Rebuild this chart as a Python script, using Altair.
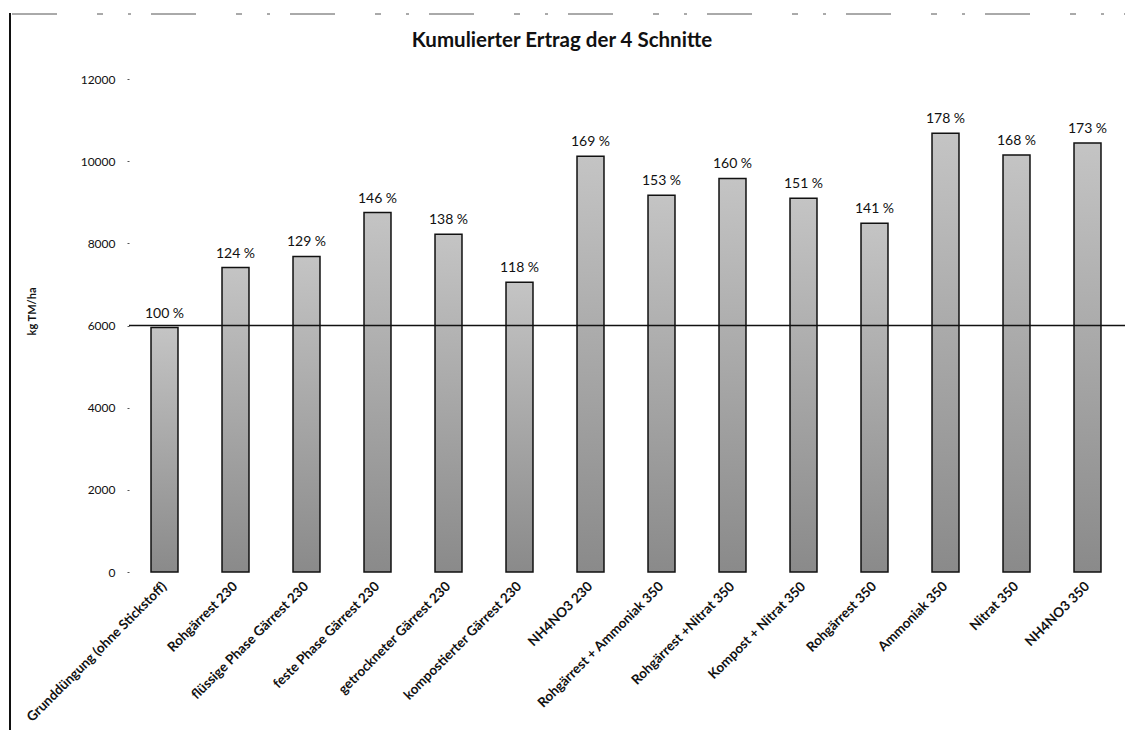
import altair as alt
import pandas as pd

title_text = ["Kumulierter Ertrag der 4 Schnitte"]
categories = [
    "Grunddüngung (ohne Stickstoff)", "Rohgärrest 230", "flüssige Phase Gärrest 230",
    "feste Phase Gärrest 230", "getrockneter Gärrest 230", "kompostierter Gärrest 230",
    "NH4NO3 230", "Rohgärrest + Ammoniak 350", "Rohgärrest +Nitrat 350",
    "Kompost + Nitrat 350", "Rohgärrest 350", "Ammoniak 350", "Nitrat 350", "NH4NO3 350",
]
values = [5950, 7410, 7680, 8750, 8220, 7050, 10120, 9170, 9580, 9100, 8490, 10680, 10150, 10440]
percent_labels = ["100 %", "124 %", "129 %", "146 %", "138 %", "118 %", "169 %",
                  "153 %", "160 %", "151 %", "141 %", "178 %", "168 %", "173 %"]
reference_value = [6000]
y_ticks = [0, 2000, 4000, 6000, 8000, 10000, 12000]

df = pd.DataFrame({"cat": categories, "val": values, "pct": percent_labels})
ref = pd.DataFrame({"ref": reference_value})
ttl = pd.DataFrame({"t": title_text})

FONT = "Lato"
W, H = 994, 493

x_enc = alt.X("cat:N", sort=categories, title=None,
              scale=alt.Scale(paddingInner=0.62, paddingOuter=0.31),
              axis=alt.Axis(labelAngle=-45, labelAlign="right", labelBaseline="middle",
                            labelFontSize=13.5, labelFont=FONT, labelColor="#111",
                            labelFontWeight="bold",
                            labelPadding=12, domain=False, ticks=False, labelLimit=300))
y_scale = alt.Scale(domain=[0, 12000], nice=False)

bars = alt.Chart(df).mark_bar(
    stroke="#111", strokeWidth=1.5,
    color=alt.Gradient(gradient="linear", x1=0, x2=0, y1=0, y2=1,
                       stops=[alt.GradientStop(color="#c4c4c4", offset=0),
                              alt.GradientStop(color="#8a8a8a", offset=1)])
).encode(
    x=x_enc,
    y=alt.Y("val:Q", scale=y_scale, title="kg TM/ha",
            axis=alt.Axis(values=y_ticks, format="d", grid=False, domain=False, tickSize=2,
                          tickColor="#555", labelFontSize=12, labelFont=FONT,
                          labelColor="#111", labelPadding=12, titleFont=FONT,
                          titleFontSize=11, titleFontWeight="bold", titleColor="#111",
                          titleAngle=-90, titleX=-92, titleY=232)),
)

text = alt.Chart(df).mark_text(baseline="bottom", dy=-7, fontSize=14, font=FONT,
                               color="#111").encode(
    x=alt.X("cat:N", sort=categories),
    y=alt.Y("val:Q", scale=y_scale),
    text="pct:N",
)

rule = alt.Chart(ref).mark_rule(color="#111", strokeWidth=1.6).encode(
    y=alt.Y("ref:Q", scale=y_scale),
    x=alt.value(0), x2=alt.value(W + 2),
)

title_mark = alt.Chart(ttl).mark_text(font=FONT, fontSize=20.5, fontWeight="bold",
                                      color="#111", align="center",
                                      baseline="alphabetic").encode(
    x=alt.value(433), y=alt.value(-32), text="t:N",
)

border_left = alt.Chart(ref).mark_rule(color="#111", strokeWidth=2).encode(
    x=alt.value(-119), y=alt.value(-66), y2=alt.value(680),
)
border_top = alt.Chart(ref).mark_rule(color="#555", strokeWidth=1,
                                      strokeDash=[45, 40, 6, 25, 3, 20]).encode(
    x=alt.value(-117), x2=alt.value(W + 2), y=alt.value(-65),
)

chart = alt.layer(bars, text, rule, title_mark, border_left, border_top).properties(
    width=W, height=H,
    background="white",
    padding={"left": 121, "top": 71, "right": 4, "bottom": 158},
    autosize=alt.AutoSizeParams(type="none"),
).configure_view(stroke=None, strokeWidth=0)

chart.save("out.html", embed_options={"renderer": "svg", "actions": False})
